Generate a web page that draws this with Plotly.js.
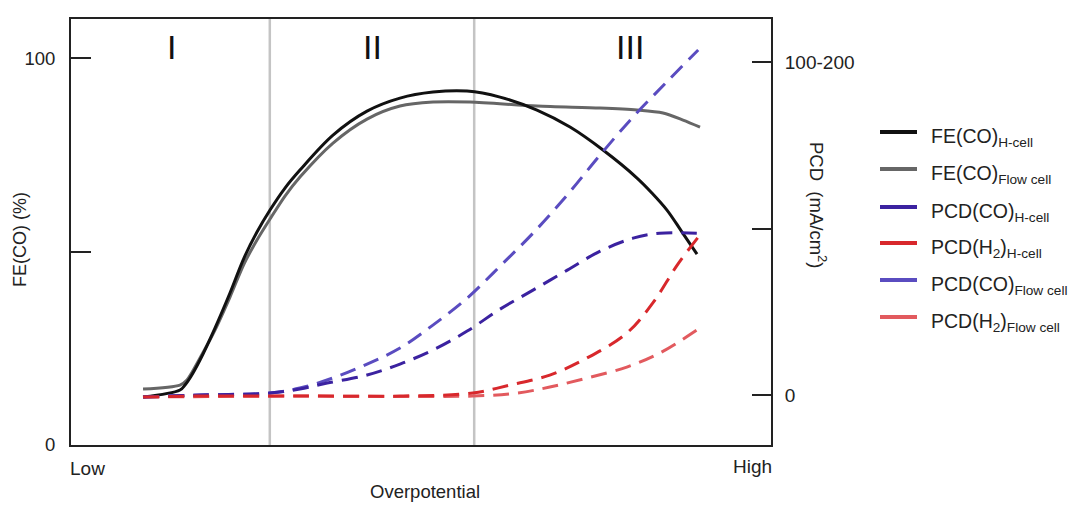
<!DOCTYPE html>
<html>
<head>
<meta charset="utf-8">
<script src="https://cdn.plot.ly/plotly-3.0.1.min.js"></script>
<style>html,body{margin:0;padding:0;background:#fff;}#chart{width:1090px;height:505px;}</style>
</head>
<body>
<div id="chart"></div>
<script>
// Overpotential axis (arbitrary 0-100, Low -> High)
const feHx   = [10.29,15.57,16.29,17.0,18.43,20.57,22.71,24.71,26.57,28.43,30.57,32.71,37.43,42.29,47.0,51.71,56.57,61.29,66.57,71.29,76.0,80.86,83.0,85.14,87.29,89.43];
const feH    = [12.40,14.21,15.50,17.31,21.96,30.23,39.28,48.32,55.04,60.72,66.41,71.06,80.10,86.30,89.66,91.21,91.47,89.92,86.56,82.17,76.23,69.0,65.12,60.72,55.04,49.35];

const feFx   = [10.29,15.57,16.57,18.43,20.57,22.71,24.71,26.57,28.43,30.57,32.71,37.43,42.29,47.0,51.71,57.0,66.57,75.57,80.86,84.57,87.43,89.86];
const feF    = [14.47,15.50,16.80,22.48,29.72,38.24,46.77,52.97,58.40,64.34,69.25,78.04,84.24,87.60,88.63,88.63,87.60,87.08,86.56,85.79,83.98,82.17];

const pcdCOHx = [10.3,18.4,28.4,32.7,36.6,42.3,47.0,51.7,56.6,61.3,66.0,70.9,75.6,80.3,84.1,89.4];
const pcdCOH  = [-0.6,0.0,0.6,1.8,3.6,6.0,9.3,13.5,19.2,25.8,31.5,37.5,43.2,47.1,48.6,48.6];

const pcdCOFx = [10.3,18.4,28.4,32.7,37.4,42.3,47.0,51.7,56.6,61.3,66.0,70.9,75.6,80.3,85.1,89.6];
const pcdCOF  = [-0.6,0.0,0.6,2.1,5.1,9.3,14.1,21.0,29.1,38.7,48.6,60.1,72.1,83.5,94.0,103.6];

const pcdH2Hx = [10.3,18.4,32.7,47.0,57.4,62.7,68.4,73.7,79.4,83.1,86.6,89.6];
const pcdH2H  = [-0.6,-0.3,-0.3,-0.3,0.6,3.0,6.0,11.1,18.6,27.6,39.0,47.4];

const pcdH2Fx = [10.3,32.7,57.4,63.7,68.4,73.7,79.4,84.1,89.4];
const pcdH2F  = [-0.6,-0.3,-0.3,0.6,2.4,5.1,8.4,12.6,19.5];

const regionBounds = [28.4, 57.6];
const regionLabels = ['I','II','III'];
const regionLabelX = [14.4, 43.1, 79.9];

const leftTickVals = [0,50,100];
const leftTickText = ['0','','100'];
const rightTickVals = [0,50,100];
const rightTickText = ['0','','100-200'];

const sub = s => '<sub>' + s + '</sub>';
const legendNames = ['FE(CO)'+sub('H-cell'),'FE(CO)'+sub('Flow cell'),'PCD(CO)'+sub('H-cell'),'PCD(H'+sub('2')+')'+sub('H-cell'),'PCD(CO)'+sub('Flow cell'),'PCD(H'+sub('2')+')'+sub('Flow cell')];
const colors = ['#111111','#666666','#3b22a0','#d8282c','#5a4cc0','#e25a5e'];

const dash = '16px,9px';
const traces = [
  {x:pcdH2Fx, y:pcdH2F, yaxis:'y2', mode:'lines', line:{color:colors[5], width:3, dash:dash, shape:'spline'}},
  {x:pcdCOFx, y:pcdCOF, yaxis:'y2', mode:'lines', line:{color:colors[4], width:3, dash:dash, shape:'spline'}},
  {x:pcdCOHx, y:pcdCOH, yaxis:'y2', mode:'lines', line:{color:colors[2], width:3, dash:dash, shape:'spline'}},
  {x:pcdH2Hx, y:pcdH2H, yaxis:'y2', mode:'lines', line:{color:colors[3], width:3, dash:dash, shape:'spline'}},
  {x:feFx, y:feF, mode:'lines', line:{color:colors[1], width:3, shape:'spline', smoothing:0.8}},
  {x:feHx, y:feH, mode:'lines', line:{color:colors[0], width:3, shape:'spline', smoothing:1}}
];

const L=71, R=771, T=19, B=445;
const px = v => (v-L)/(R-L);
const py = v => (B-v)/(B-T);

const shapes = regionBounds.map(b => ({type:'line', xref:'x', yref:'paper', x0:b, x1:b, y0:0, y1:1, line:{color:'#c4c4c4', width:2.5}, layer:'below'}));
const annotations = [];
const font = 'Liberation Sans, Arial, sans-serif';
const tc = '#222';
regionLabels.forEach((t,i)=>annotations.push({text:t, x:regionLabelX[i], xref:'x', y:py(47), yref:'paper', showarrow:false, font:{family:font, size:34, color:'#111'}, xanchor:'center', yanchor:'middle'}));

const legY = [132,169,207,243,280,317];
legendNames.forEach((n,i)=>{
  shapes.push({type:'line', xref:'paper', yref:'paper', x0:px(880), x1:px(917), y0:py(legY[i]), y1:py(legY[i]), line:{color:colors[i], width:4}});
  annotations.push({text:n, xref:'paper', yref:'paper', x:px(929), y:py(legY[i]+5), xanchor:'left', yanchor:'middle', showarrow:false, font:{family:font, size:19.5, color:tc}});
});

annotations.push({text:'Low', xref:'paper', yref:'paper', x:px(87), y:py(468), showarrow:false, xanchor:'center', yanchor:'middle', font:{family:font, size:19, color:tc}});
annotations.push({text:'High', xref:'paper', yref:'paper', x:px(752), y:py(466), showarrow:false, xanchor:'center', yanchor:'middle', font:{family:font, size:19, color:tc}});
annotations.push({text:'Overpotential', xref:'paper', yref:'paper', x:px(425), y:py(491), showarrow:false, xanchor:'center', yanchor:'middle', font:{family:font, size:18.5, color:tc}});
annotations.push({text:'FE(CO) (%)', xref:'paper', yref:'paper', x:px(20), y:py(240), showarrow:false, textangle:-90, xanchor:'center', yanchor:'middle', font:{family:font, size:18, color:tc}});
annotations.push({text:'PCD  (mA/cm<sup>2</sup>)', xref:'paper', yref:'paper', x:px(818), y:py(205), showarrow:false, textangle:90, xanchor:'center', yanchor:'middle', font:{family:font, size:18.5, color:tc}});

const layout = {
  width:1090, height:505,
  margin:{l:L, r:1090-R, t:T, b:505-B, pad:0},
  paper_bgcolor:'#fff', plot_bgcolor:'#fff',
  showlegend:false,
  font:{family:font, size:19, color:tc},
  xaxis:{range:[0,100], showgrid:false, zeroline:false, showline:true, mirror:true, linecolor:'#222', linewidth:2, showticklabels:false, ticks:''},
  yaxis:{range:[0,110.1], showgrid:false, zeroline:false, showline:true, linecolor:'#222', linewidth:2, tickvals:leftTickVals, ticktext:leftTickText, ticks:'inside', ticklen:20, tickwidth:2, tickcolor:'#222', ticklabelstandoff:10, tickfont:{family:font, size:18.5, color:tc}},
  yaxis2:{overlaying:'y', side:'right', range:[-15.0,112.9], showgrid:false, zeroline:false, showline:true, linecolor:'#222', linewidth:2, tickvals:rightTickVals, ticktext:rightTickText, ticks:'inside', ticklen:19, tickwidth:2, tickcolor:'#222', ticklabelstandoff:8, tickfont:{family:font, size:19, color:tc}},
  shapes:shapes,
  annotations:annotations
};
Plotly.newPlot('chart', traces, layout, {displayModeBar:false, staticPlot:true});
</script>
</body>
</html>
